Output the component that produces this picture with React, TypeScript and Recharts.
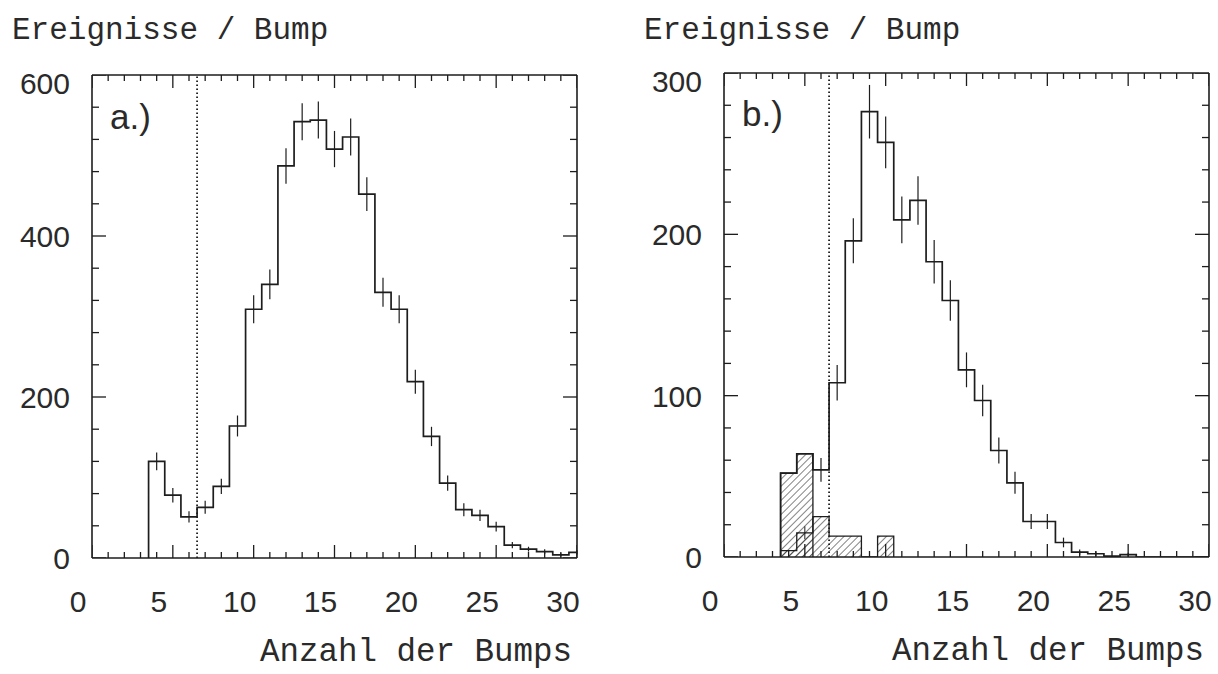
import {
  Area,
  ComposedChart,
  ErrorBar,
  Line,
  ReferenceLine,
  Scatter,
  XAxis,
  YAxis,
} from "recharts";

const INK = "#1d1d1d";
const NUM_FONT = "'Liberation Sans', Arial, sans-serif";
const MONO_FONT = "'Liberation Mono', 'Courier New', monospace";

// shared axis ticks
const xTicks = [
  0, 1, 2, 3, 4, 5, 6, 7, 8, 9, 10, 11, 12, 13, 14, 15, 16, 17, 18, 19, 20,
  21, 22, 23, 24, 25, 26, 27, 28, 29, 30,
];
const yTicksA = [
  0, 40, 80, 120, 160, 200, 240, 280, 320, 360, 400, 440, 480, 520, 560, 600,
];
const yTicksB = [
  0, 20, 40, 60, 80, 100, 120, 140, 160, 180, 200, 220, 240, 260, 280, 300,
];
const cutValue = 6.5;

// a.) all events
const binsA = [
  4, 5, 6, 7, 8, 9, 10, 11, 12, 13, 14, 15, 16, 17, 18, 19, 20, 21, 22, 23,
  24, 25, 26, 27, 28, 29, 30,
];
const countsA = [
  120, 78, 51, 63, 89, 164, 309, 340, 487, 542, 544, 508, 523, 452, 330, 309,
  219, 151, 93, 60, 53, 39, 16, 11, 8, 4, 7,
];
const errorsA = [
  11, 9, 7, 8, 9.5, 13, 17.5, 18.5, 22, 23, 23, 22.5, 23, 21, 18, 17.5, 15, 12,
  9.5, 8, 7, 6, 4, 3, 3, 2, 2.5,
];

// b.) selected events
const binsB = [
  4, 5, 6, 7, 8, 9, 10, 11, 12, 13, 14, 15, 16, 17, 18, 19, 20, 21, 22, 23,
  24, 25, 26, 27, 28, 29, 30,
];
const countsB = [
  52, 64, 54, 108, 196, 276, 257, 209, 221, 183, 159, 116, 97, 66, 46, 22, 22,
  9, 3, 2, 0.5, 1.5, 0, 0, 0, 0, 0,
];
const errorsB = [
  0, 0, 7.4, 11, 14, 16.6, 16, 14.5, 15, 13.5, 12.6, 10.8, 9.8, 8.1, 6.8, 4.7,
  4.7, 3, 1.7, 1.4, 0, 1.2, 0, 0, 0, 0, 0,
];
const cutBinsB = [4, 5];
const cutCountsB = [52, 64];
const bgBinsB = [4, 5, 6, 7, 8, 9, 10];
const bgCountsB = [4, 15, 25, 13, 13, 0, 13];
const bgErrorsB = [0, 4, 0, 0, 0, 0, 0];

type Pt = { x: number; y: number };

// bin contents -> points for a stepAfter outline
function stepPoints(bins: number[], counts: number[], closeToZero: boolean) {
  const pts: Pt[] = [{ x: bins[0] - 0.5, y: 0 }];
  bins.forEach((b, i) => pts.push({ x: b - 0.5, y: counts[i] }));
  const last = bins.length - 1;
  pts.push({
    x: Math.min(bins[last] + 0.5, 30),
    y: closeToZero ? 0 : counts[last],
  });
  return pts;
}

function errPoints(bins: number[], counts: number[], errors: number[]) {
  return bins.map((b, i) => ({ x: b, y: counts[i], e: errors[i] }));
}

// tick marks are drawn as scatter shapes sitting on the frame
type Side = "bottom" | "top" | "left" | "right";
const tickDir: Record<Side, [number, number]> = {
  bottom: [0, -1],
  top: [0, 1],
  left: [1, 0],
  right: [-1, 0],
};

function makeTickMark(side: Side, minor: number, major: number) {
  const [dx, dy] = tickDir[side];
  return (p: any) => {
    const len = p.payload.major ? major : minor;
    return (
      <line
        x1={p.cx}
        y1={p.cy}
        x2={p.cx + dx * len}
        y2={p.cy + dy * len}
        stroke={INK}
        strokeWidth={1.3}
      />
    );
  };
}

function XLabel(p: any) {
  const v = p.payload.value as number;
  if (v % 5 !== 0) return <g />;
  return (
    <text
      x={p.x - 14}
      y={p.y + 54}
      textAnchor="middle"
      fontFamily={NUM_FONT}
      fontSize={30}
      fill="#2a2a2a"
    >
      {v}
    </text>
  );
}

function makeYLabel(majorStep: number, top: number) {
  return (p: any) => {
    const v = p.payload.value as number;
    if (v % majorStep !== 0) return <g />;
    return (
      <text
        x={p.x - 22}
        y={p.y + 11 + (v === top ? 8 : 0)}
        textAnchor="end"
        fontFamily={NUM_FONT}
        fontSize={30}
        fill="#2a2a2a"
      >
        {v}
      </text>
    );
  };
}

const noShape = () => <g />;

interface PanelProps {
  left: number;
  margin: { top: number; left: number; right: number; bottom: number };
  yMax: number;
  yTicks: number[];
  yMajor: number;
  bins: number[];
  counts: number[];
  errors: number[];
  hatchId: string;
  hatched?: { bins: number[]; counts: number[] }[];
  bgErrors?: { bins: number[]; counts: number[]; errors: number[] };
}

function Panel(props: PanelProps) {
  const { margin, yMax, yTicks, yMajor, hatchId } = props;
  const axisLine = { stroke: INK, strokeWidth: 1.6 };
  const marksBottom = xTicks.map((v) => ({ x: v, y: 0, major: v % 5 === 0 }));
  const marksTop = xTicks.map((v) => ({ x: v, y: yMax, major: v % 5 === 0 }));
  const marksLeft = yTicks.map((v) => ({ x: 0, y: v, major: v % yMajor === 0 }));
  const marksRight = yTicks.map((v) => ({
    x: 30,
    y: v,
    major: v % yMajor === 0,
  }));
  const markSets: [Side, typeof marksBottom, number, number][] = [
    ["bottom", marksBottom, 6, 13],
    ["top", marksTop, 6, 13],
    ["left", marksLeft, 7, 14],
    ["right", marksRight, 7, 14],
  ];
  return (
    <div style={{ position: "absolute", left: props.left, top: 0 }}>
      <ComposedChart width={609} height={674} margin={margin}>
        <defs>
          <pattern
            id={hatchId}
            width={5}
            height={5}
            patternUnits="userSpaceOnUse"
            patternTransform="rotate(45)"
          >
            <line x1={0} y1={0} x2={0} y2={5} stroke={INK} strokeWidth={1.1} />
          </pattern>
        </defs>
        <XAxis
          xAxisId="b"
          dataKey="x"
          type="number"
          domain={[0, 30]}
          ticks={xTicks}
          interval={0}
          height={1}
          tickSize={0}
          tickMargin={0}
          tickLine={false}
          axisLine={axisLine}
          tick={XLabel}
          allowDataOverflow
        />
        <XAxis
          xAxisId="t"
          orientation="top"
          dataKey="x"
          type="number"
          domain={[0, 30]}
          height={1}
          tick={false}
          tickLine={false}
          axisLine={axisLine}
        />
        <YAxis
          yAxisId="l"
          dataKey="y"
          type="number"
          domain={[0, yMax]}
          ticks={yTicks}
          interval={0}
          width={1}
          tickSize={0}
          tickMargin={0}
          tickLine={false}
          axisLine={axisLine}
          tick={makeYLabel(yMajor, yMax)}
          allowDataOverflow
        />
        <YAxis
          yAxisId="r"
          orientation="right"
          dataKey="y"
          type="number"
          domain={[0, yMax]}
          width={1}
          tick={false}
          tickLine={false}
          axisLine={axisLine}
        />
        {markSets.map(([side, marks, minor, major]) => (
          <Scatter
            key={side}
            xAxisId="b"
            yAxisId="l"
            data={marks}
            dataKey="y"
            shape={makeTickMark(side, minor, major)}
            isAnimationActive={false}
          />
        ))}
        {(props.hatched ?? []).map((h, i) => (
          <Area
            key={`h${i}`}
            xAxisId="b"
            yAxisId="l"
            data={stepPoints(h.bins, h.counts, true)}
            dataKey="y"
            type="stepAfter"
            stroke={INK}
            strokeWidth={1.3}
            fill={`url(#${hatchId})`}
            fillOpacity={1}
            dot={false}
            activeDot={false}
            isAnimationActive={false}
          />
        ))}
        {props.bgErrors && (
          <Scatter
            xAxisId="b"
            yAxisId="l"
            data={errPoints(
              props.bgErrors.bins,
              props.bgErrors.counts,
              props.bgErrors.errors
            )}
            dataKey="y"
            shape={noShape}
            isAnimationActive={false}
          >
            <ErrorBar
              dataKey="e"
              direction="y"
              width={0}
              stroke={INK}
              strokeWidth={1}
            />
          </Scatter>
        )}
        <Line
          xAxisId="b"
          yAxisId="l"
          data={stepPoints(props.bins, props.counts, false)}
          dataKey="y"
          type="stepAfter"
          stroke={INK}
          strokeWidth={1.7}
          dot={false}
          activeDot={false}
          isAnimationActive={false}
        />
        <Scatter
          xAxisId="b"
          yAxisId="l"
          data={errPoints(props.bins, props.counts, props.errors)}
          dataKey="y"
          shape={noShape}
          isAnimationActive={false}
        >
          <ErrorBar
            dataKey="e"
            direction="y"
            width={0}
            stroke={INK}
            strokeWidth={1.2}
          />
        </Scatter>
        <ReferenceLine
          xAxisId="b"
          yAxisId="l"
          x={cutValue}
          stroke={INK}
          strokeWidth={1.8}
          strokeDasharray="1.5 2.5"
        />
      </ComposedChart>
    </div>
  );
}

export default function App() {
  return (
    <div
      style={{
        position: "absolute",
        left: 0,
        top: 0,
        width: 1218,
        height: 674,
        background: "#ffffff",
      }}
    >
      <Panel
        left={0}
        margin={{ top: 74, left: 91, right: 31, bottom: 115 }}
        yMax={600}
        yTicks={yTicksA}
        yMajor={200}
        bins={binsA}
        counts={countsA}
        errors={errorsA}
        hatchId="hatchA"
      />
      <Panel
        left={609}
        margin={{ top: 72, left: 114, right: 8, bottom: 116 }}
        yMax={300}
        yTicks={yTicksB}
        yMajor={100}
        bins={binsB}
        counts={countsB}
        errors={errorsB}
        hatchId="hatchB"
        hatched={[
          { bins: cutBinsB, counts: cutCountsB },
          { bins: bgBinsB, counts: bgCountsB },
        ]}
        bgErrors={{ bins: bgBinsB, counts: bgCountsB, errors: bgErrorsB }}
      />
      <svg
        width={1218}
        height={674}
        style={{ position: "absolute", left: 0, top: 0, pointerEvents: "none" }}
      >
        <g fontFamily={MONO_FONT} fill="#2a2a2a">
          <text x={12} y={39} fontSize={31}>
            Ereignisse / Bump
          </text>
          <text x={644} y={39} fontSize={31}>
            Ereignisse / Bump
          </text>
          <text x={260} y={661} fontSize={32.5}>
            Anzahl der Bumps
          </text>
          <text x={892} y={660} fontSize={32.5}>
            Anzahl der Bumps
          </text>
        </g>
        <g fontFamily={NUM_FONT} fontSize={35} fill="#2a2a2a">
          <text x={110} y={129}>a.)</text>
          <text x={742} y={126}>b.)</text>
        </g>
      </svg>
    </div>
  );
}
